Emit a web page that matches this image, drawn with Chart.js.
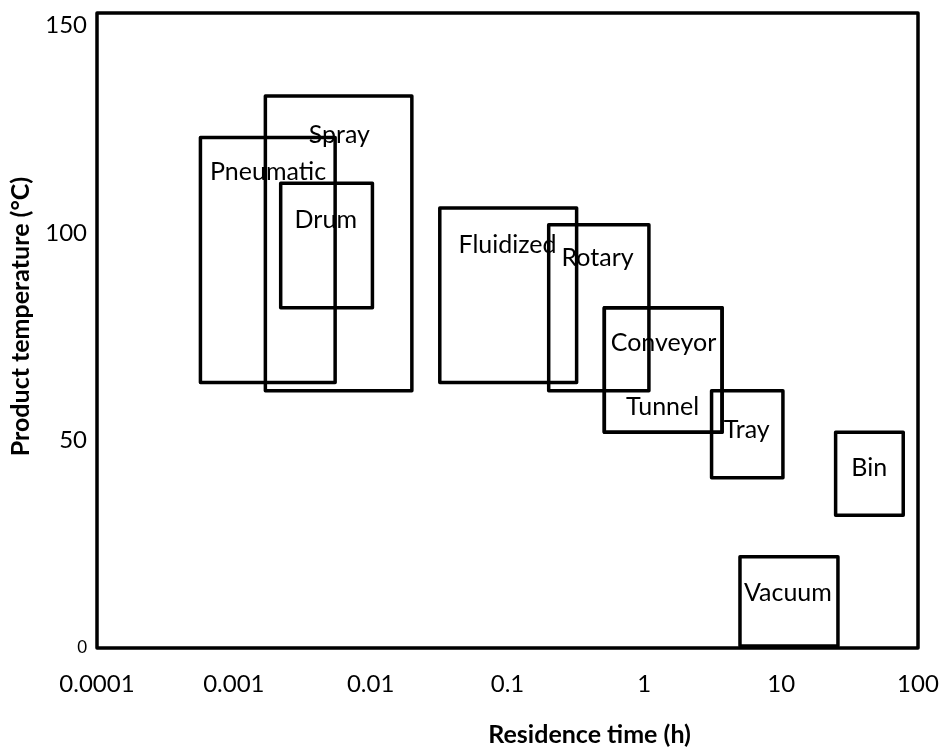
<!DOCTYPE html>
<html>
<head>
<meta charset="utf-8">
<script src="https://cdn.jsdelivr.net/npm/chart.js@4.4.0/dist/chart.umd.min.js"></script>
<style>
  html, body { margin: 0; padding: 0; background: #fff; }
  canvas { display: block; }
</style>
</head>
<body>
<canvas id="chart" width="941" height="749"></canvas>
<script>
// dryer types: residence time range (h) and product temperature range (°C)
const dryers    = ['Pneumatic', 'Spray', 'Drum', 'Fluidized', 'Rotary', 'Conveyor', 'Tunnel', 'Tray', 'Bin', 'Vacuum'];
const timeMin   = [0.00057, 0.0017, 0.0022, 0.032, 0.2, 0.51, 0.51, 3.1, 25, 5];
const timeMax   = [0.0055, 0.02, 0.0103, 0.32, 1.08, 3.7, 3.7, 10.3, 78, 26];
const tempMin   = [64, 62, 82, 64, 62, 52, 52, 41, 32, 0.5];
const tempMax   = [123, 133, 112, 106, 102, 82, 82, 62, 52, 22];
// where each name sits (data units)
const labelTime = [0.00178, 0.0059, 0.0047, 0.1, 0.455, 1.38, 1.36, 5.6, 44, 11.2];
const labelTemp = [114.7, 123.6, 103.1, 97.1, 94.0, 73.5, 58.1, 52.5, 43.4, 13.3];

const xTicks      = [0.0001, 0.001, 0.01, 0.1, 1, 10, 100];
const xTickLabels = ['0.0001', '0.001', '0.01', '0.1', '1', '10', '100'];
const yTicks      = [0, 50, 100, 150];

const xTitle = 'Residence time (h)';
const yTitle = 'Product temperature (°C)';

const FONT = "Lato, 'Open Sans', sans-serif";

// one closed rectangle per dryer
const datasets = dryers.map((name, i) => ({
  label: name,
  data: [
    { x: timeMin[i], y: tempMin[i] },
    { x: timeMax[i], y: tempMin[i] },
    { x: timeMax[i], y: tempMax[i] },
    { x: timeMin[i], y: tempMax[i] },
    { x: timeMin[i], y: tempMin[i] }
  ],
  showLine: true,
  borderColor: '#000',
  borderWidth: 3.5,
  pointRadius: 0,
  fill: false,
  tension: 0,
  borderJoinStyle: 'round'
}));

// box around the plot area
const framePlugin = {
  id: 'frame',
  afterDatasetsDraw(chart) {
    const a = chart.chartArea;
    const c = chart.ctx;
    c.save();
    c.strokeStyle = '#000';
    c.lineWidth = 3.5;
    c.lineJoin = 'round';
    c.strokeRect(a.left, a.top, a.right - a.left, a.bottom - a.top);
    c.restore();
  }
};

// dryer names inside the boxes
const namesPlugin = {
  id: 'names',
  afterDatasetsDraw(chart) {
    const c = chart.ctx;
    const xs = chart.scales.x, ys = chart.scales.y;
    c.save();
    c.fillStyle = '#000';
    c.font = '25px ' + FONT;
    c.textAlign = 'center';
    c.textBaseline = 'middle';
    dryers.forEach((name, i) => {
      c.fillText(name, xs.getPixelForValue(labelTime[i]), ys.getPixelForValue(labelTemp[i]));
    });
    c.restore();
  }
};

// axis titles (the original sits them off-centre)
const titlesPlugin = {
  id: 'axisTitles',
  afterDraw(chart) {
    const a = chart.chartArea;
    const c = chart.ctx;
    c.save();
    c.fillStyle = '#000';
    c.font = 'bold 25px ' + FONT;
    c.textAlign = 'center';
    c.textBaseline = 'middle';
    c.fillText(xTitle, a.left + (a.right - a.left) * 0.6, a.bottom + 87);
    c.translate(21, a.top + (a.bottom - a.top) * 0.478);
    c.rotate(-Math.PI / 2);
    c.fillText(yTitle, 0, 0);
    c.restore();
  }
};

new Chart(document.getElementById('chart'), {
  type: 'scatter',
  data: { datasets },
  plugins: [framePlugin, namesPlugin, titlesPlugin],
  options: {
    responsive: false,
    animation: false,
    layout: { padding: { top: 13, right: 23, left: 0, bottom: 0 } },
    plugins: {
      legend: { display: false },
      tooltip: { enabled: false }
    },
    scales: {
      x: {
        type: 'logarithmic',
        min: 0.0001,
        max: 100,
        grid: { display: false, drawTicks: false },
        border: { display: false },
        afterBuildTicks: s => { s.ticks = xTicks.map(v => ({ value: v })); },
        afterFit: s => { s.height = 101; s.paddingLeft = 0; s.paddingRight = 0; },
        ticks: {
          autoSkip: false,
          maxRotation: 0,
          padding: 22,
          color: '#000',
          font: { family: FONT, size: 24 },
          callback: v => {
            const i = xTicks.findIndex(t => Math.abs(Math.log10(t) - Math.log10(v)) < 1e-6);
            return i >= 0 ? xTickLabels[i] : '';
          }
        }
      },
      y: {
        type: 'linear',
        min: 0,
        max: 153,
        grid: { display: false, drawTicks: false },
        border: { display: false },
        afterBuildTicks: s => { s.ticks = yTicks.map(v => ({ value: v })); },
        afterFit: s => { s.width = 97; s.paddingTop = 0; s.paddingBottom = 0; },
        ticks: {
          padding: 10,
          color: '#000',
          font: ctx => ({ family: FONT, size: ctx.tick && ctx.tick.value === 0 ? 17 : 24 })
        }
      }
    }
  }
});
</script>
</body>
</html>
